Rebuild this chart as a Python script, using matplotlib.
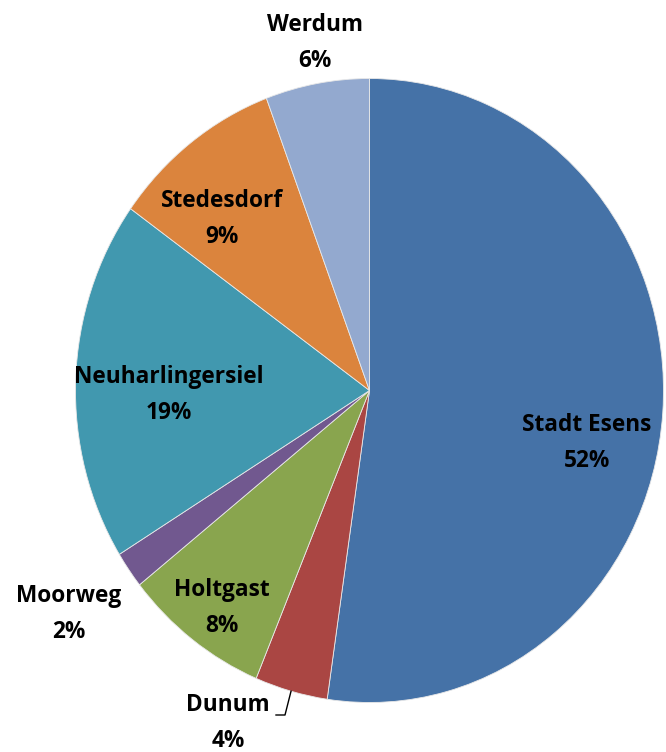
import numpy as np
import matplotlib
matplotlib.use("Agg")
import matplotlib.pyplot as plt

names = ["Stadt Esens", "Dunum", "Holtgast", "Moorweg", "Neuharlingersiel", "Stedesdorf", "Werdum"]
shares = [52.3, 4.0, 8.0, 1.9, 18.7, 9.4, 5.7]
colors = ["#4572A7", "#AA4643", "#89A54E", "#71588F", "#4198AF", "#DB843D", "#93A9CF"]

# label centres in pixels (x, y from top), Excel "best fit" layout
label_px = [(587, 443), (228, 723), (222, 608), (69, 614), (169, 395), (222, 219), (315, 43)]

W, H = 666, 752
cx, cy, rx, ry = 369.5, 390.5, 294, 312

plt.rcParams['font.family'] = ['Open Sans', 'DejaVu Sans']
fig = plt.figure(figsize=(W / 100, H / 100), dpi=100)
ax = fig.add_axes([0, 0, 1, 1])

wedges, _ = ax.pie(shares, colors=colors, startangle=90, counterclock=False,
                   radius=1, wedgeprops=dict(linewidth=0.6, edgecolor="#e8e8e8"))
ax.set_aspect('auto')
ax.set_xlim(-cx / rx, (W - cx) / rx)
ax.set_ylim(-(H - cy) / ry, cy / ry)
ax.axis('off')

for name, val, (px, py) in zip(names, shares, label_px):
    fig.text(px / W, 1 - py / H, f"{name}\n{round(val)}%", ha='center', va='center',
             fontsize=16.3, fontweight='bold', color='black', linespacing=1.68)

# leader line for Dunum
w = wedges[1]
mid = np.deg2rad((w.theta1 + w.theta2) / 2)
ex, ey = np.cos(mid), np.sin(mid)
inv = ax.transData.inverted()
ax_x1, ax_y1 = inv.transform((285, H - 715))
ax_x0, _ = inv.transform((276, H - 715))
ax.plot([ax_x0, ax_x1, ex], [ax_y1, ax_y1, ey], color='black', linewidth=1, clip_on=False)

fig.savefig("out.png", dpi=100, facecolor='white')
